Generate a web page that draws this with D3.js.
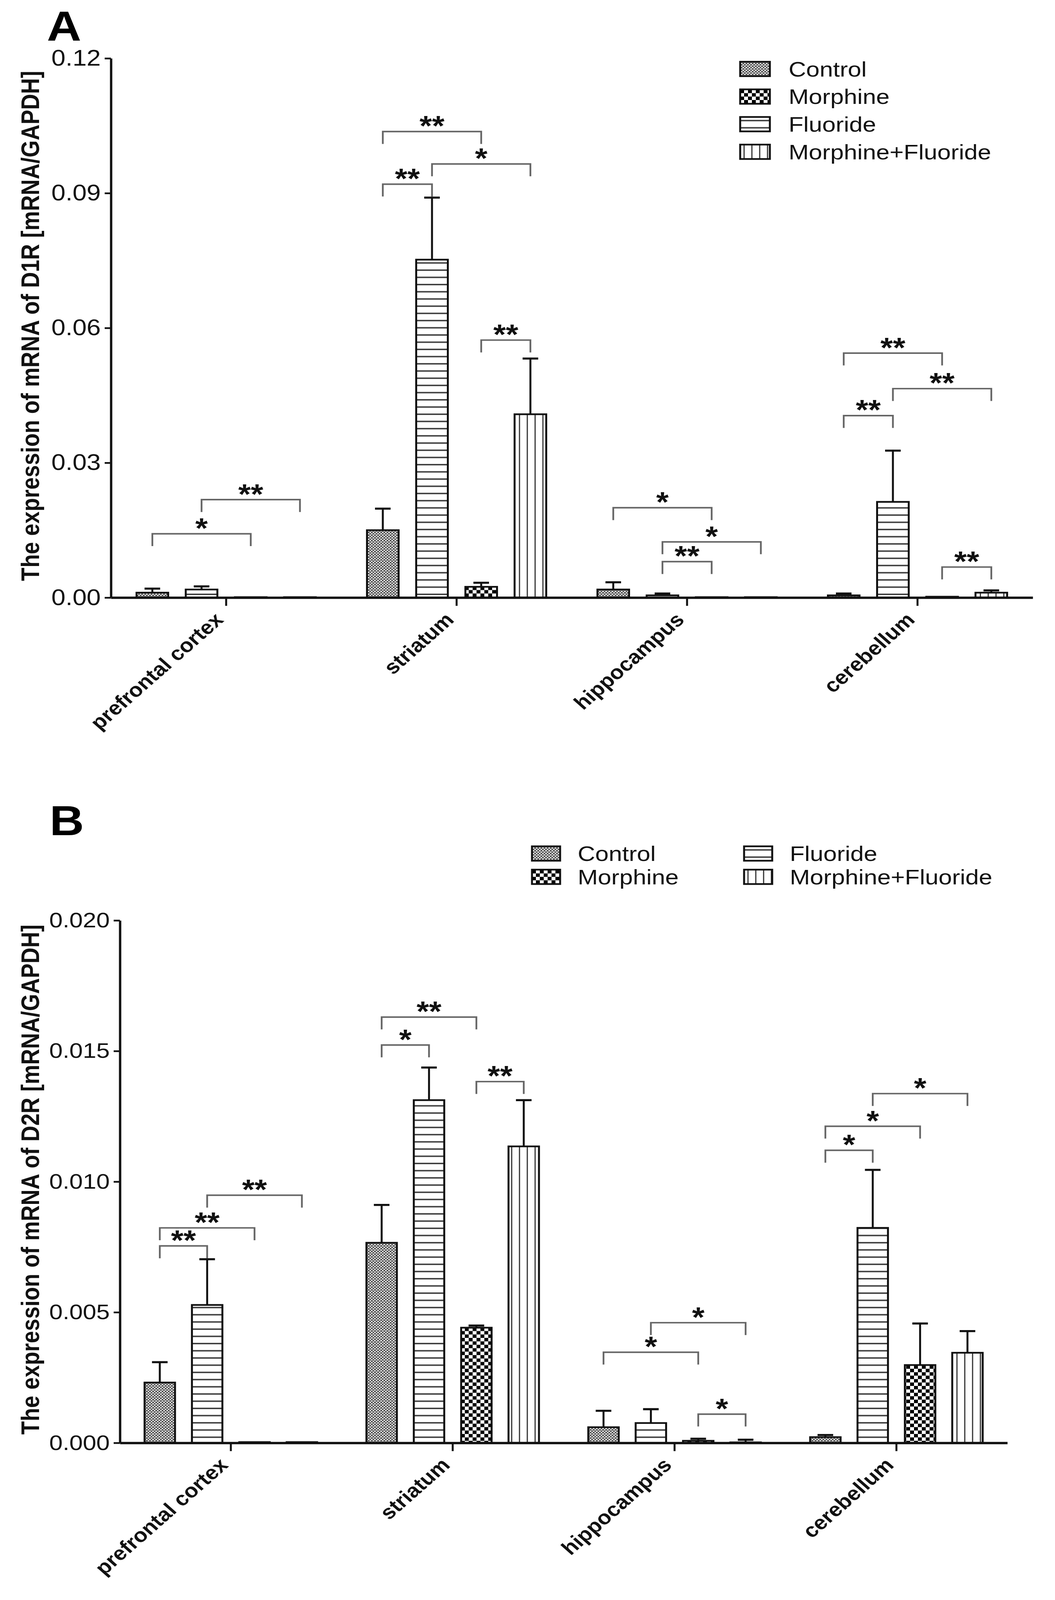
<!DOCTYPE html>
<html>
<head>
<meta charset="utf-8">
<script src="https://cdn.jsdelivr.net/npm/d3@7"></script>
<style>
  html, body { margin: 0; padding: 0; background: #fff; overflow: hidden; }
  svg { display: block; }
  text { font-family: "Liberation Sans", Arial, sans-serif; }
</style>
</head>
<body>
<script>
// regions on the x axis and the treatment groups, in the order the bars are drawn
const regions = ["prefrontal cortex", "striatum", "hippocampus", "cerebellum"];
const groups = ["Control", "Fluoride", "Morphine", "Morphine+Fluoride"];
const legendOrder = ["Control", "Morphine", "Fluoride", "Morphine+Fluoride"];

// D1R (panel A) means and SEM, one value per region
const d1rControl = [0.0011, 0.0150, 0.0018, 0.0005];
const d1rControlErr = [0.0009, 0.0048, 0.0016, 0.0004];
const d1rFluoride = [0.0018, 0.0752, 0.0005, 0.0213];
const d1rFluorideErr = [0.0007, 0.0138, 0.0004, 0.0114];
const d1rMorphine = [0.0001, 0.0024, 0.0001, 0.0002];
const d1rMorphineErr = [0, 0.0009, 0, 0];
const d1rMorphFluor = [0.0001, 0.0408, 0.0001, 0.0011];
const d1rMorphFluorErr = [0, 0.0124, 0, 0.0005];
const d1rTicks = [0, 0.03, 0.06, 0.09, 0.12];

// D2R (panel B)
const d2rControl = [0.00231, 0.00766, 0.00060, 0.00022];
const d2rControlErr = [0.00078, 0.00145, 0.00063, 0.00008];
const d2rFluoride = [0.00528, 0.01312, 0.00076, 0.00823];
const d2rFluorideErr = [0.00175, 0.00125, 0.00053, 0.00222];
const d2rMorphine = [0.00003, 0.00441, 0.00008, 0.00298];
const d2rMorphineErr = [0, 0.00008, 0.00008, 0.00159];
const d2rMorphFluor = [0.00003, 0.01135, 0.00002, 0.00345];
const d2rMorphFluorErr = [0, 0.00177, 0.00010, 0.00083];
const d2rTicks = [0, 0.005, 0.010, 0.015, 0.020];

// significance brackets: region, first bar, second bar (group index), height in data units, label
const d1rSig = [
  {region: 0, a: 0, b: 2, at: 0.0142, label: "*"},
  {region: 0, a: 1, b: 3, at: 0.0218, label: "**"},
  {region: 1, a: 0, b: 1, at: 0.0920, label: "**"},
  {region: 1, a: 0, b: 2, at: 0.1037, label: "**"},
  {region: 1, a: 1, b: 3, at: 0.0965, label: "*"},
  {region: 1, a: 2, b: 3, at: 0.0573, label: "**"},
  {region: 2, a: 0, b: 2, at: 0.0200, label: "*"},
  {region: 2, a: 1, b: 3, at: 0.0124, label: "*"},
  {region: 2, a: 1, b: 2, at: 0.0080, label: "**"},
  {region: 3, a: 0, b: 2, at: 0.0544, label: "**"},
  {region: 3, a: 1, b: 3, at: 0.0465, label: "**"},
  {region: 3, a: 0, b: 1, at: 0.0405, label: "**"},
  {region: 3, a: 2, b: 3, at: 0.0068, label: "**"}
];
const d2rSig = [
  {region: 0, a: 0, b: 1, at: 0.00754, label: "**"},
  {region: 0, a: 0, b: 2, at: 0.00823, label: "**"},
  {region: 0, a: 1, b: 3, at: 0.00948, label: "**"},
  {region: 1, a: 0, b: 2, at: 0.01630, label: "**"},
  {region: 1, a: 0, b: 1, at: 0.01523, label: "*"},
  {region: 1, a: 2, b: 3, at: 0.01383, label: "**"},
  {region: 2, a: 0, b: 2, at: 0.00347, label: "*"},
  {region: 2, a: 1, b: 3, at: 0.00460, label: "*"},
  {region: 2, a: 2, b: 3, at: 0.00110, label: "*"},
  {region: 3, a: 0, b: 1, at: 0.01120, label: "*"},
  {region: 3, a: 0, b: 2, at: 0.01212, label: "*"},
  {region: 3, a: 1, b: 3, at: 0.01337, label: "*"}
];

// the drawing is laid out on a 2701x4664 canvas and stretched to whatever the window shows
const W = 2701, H = 4664;
const svg = d3.select("body").append("svg")
  .attr("viewBox", "0 0 " + W + " " + H)
  .attr("preserveAspectRatio", "none")
  .attr("width", window.innerWidth || W)
  .attr("height", window.innerHeight || H);
svg.append("rect").attr("width", W).attr("height", H).attr("fill", "#fff");

// fill patterns, one per group
const defs = svg.append("defs");
const patId = {"Control": "pat-ctl", "Morphine": "pat-mor", "Fluoride": "pat-flu", "Morphine+Fluoride": "pat-mf"};

var p = defs.append("pattern").attr("id", "pat-ctl").attr("patternUnits", "userSpaceOnUse")
  .attr("width", 8).attr("height", 8);
p.append("rect").attr("width", 8).attr("height", 8).attr("fill", "#fff");
p.append("path").attr("d", "M0,0L8,8M8,0L0,8M-2,6L2,10M6,-2L10,2M-2,2L2,-2M6,10L10,6")
  .attr("stroke", "#333").attr("stroke-width", 1.8);

p = defs.append("pattern").attr("id", "pat-mor").attr("patternUnits", "userSpaceOnUse")
  .attr("width", 20).attr("height", 20);
p.append("rect").attr("width", 20).attr("height", 20).attr("fill", "#fff");
p.append("rect").attr("width", 10).attr("height", 10).attr("fill", "#000");
p.append("rect").attr("x", 10).attr("y", 10).attr("width", 10).attr("height", 10).attr("fill", "#000");

p = defs.append("pattern").attr("id", "pat-flu").attr("patternUnits", "userSpaceOnUse")
  .attr("width", 10).attr("height", 21);
p.append("rect").attr("width", 10).attr("height", 21).attr("fill", "#fff");
p.append("line").attr("x1", 0).attr("x2", 10).attr("y1", 10.5).attr("y2", 10.5)
  .attr("stroke", "#333").attr("stroke-width", 4);

p = defs.append("pattern").attr("id", "pat-mf").attr("patternUnits", "userSpaceOnUse")
  .attr("width", 20).attr("height", 10);
p.append("rect").attr("width", 20).attr("height", 10).attr("fill", "#fff");
p.append("line").attr("y1", 0).attr("y2", 10).attr("x1", 10).attr("x2", 10)
  .attr("stroke", "#333").attr("stroke-width", 3);

function drawPanel(cfg) {
  var g = svg.append("g");
  var x0 = d3.scaleBand().domain(regions).range([cfg.left, cfg.right]);
  var half = x0.bandwidth() * 0.854 / 2;
  var x1 = d3.scaleBand().domain(groups).range([-half, half])
    .paddingInner(0.357).paddingOuter(0.1786);
  var y = d3.scaleLinear().domain([0, cfg.ticks[cfg.ticks.length - 1]]).range([cfg.zero, cfg.top]);
  var center = function(r) { return x0(r) + x0.bandwidth() / 2; };
  var barMid = function(ri, gi) { return center(regions[ri]) + x1(groups[gi]) + x1.bandwidth() / 2; };

  // panel letter
  g.append("text").attr("x", cfg.letterX).attr("y", cfg.letterY)
    .attr("font-size", 122).attr("font-weight", "bold").text(cfg.letter);

  // bars
  var rows = [];
  groups.forEach(function(name, gi) {
    cfg.means[gi].forEach(function(v, ri) {
      rows.push({gi: gi, ri: ri, name: name, v: v, err: cfg.errs[gi][ri]});
    });
  });
  g.selectAll(".bar").data(rows).enter().append("rect")
    .attr("class", "bar")
    .attr("x", function(d) { return center(regions[d.ri]) + x1(d.name); })
    .attr("width", x1.bandwidth())
    .attr("y", function(d) { return y(d.v); })
    .attr("height", function(d) { return cfg.zero - y(d.v); })
    .attr("fill", function(d) { return "url(#" + patId[d.name] + ")"; })
    .attr("stroke", "#111").attr("stroke-width", 5);

  // upper error bars only
  var withErr = rows.filter(function(d) { return d.err > 0; });
  g.selectAll(".err").data(withErr).enter().append("line")
    .attr("x1", function(d) { return barMid(d.ri, d.gi); })
    .attr("x2", function(d) { return barMid(d.ri, d.gi); })
    .attr("y1", function(d) { return y(d.v); })
    .attr("y2", function(d) { return y(d.v + d.err); })
    .attr("stroke", "#111").attr("stroke-width", 5);
  g.selectAll(".cap").data(withErr).enter().append("line")
    .attr("x1", function(d) { return barMid(d.ri, d.gi) - 20; })
    .attr("x2", function(d) { return barMid(d.ri, d.gi) + 20; })
    .attr("y1", function(d) { return y(d.v + d.err); })
    .attr("y2", function(d) { return y(d.v + d.err); })
    .attr("stroke", "#111").attr("stroke-width", 6);

  // y axis
  var yAxis = g.append("g").attr("transform", "translate(" + cfg.left + ",0)")
    .call(d3.axisLeft(y).tickValues(cfg.ticks).tickFormat(d3.format(cfg.fmt))
      .tickSize(16).tickSizeOuter(0).tickPadding(10));
  yAxis.select(".domain").attr("stroke", "#111").attr("stroke-width", 6);
  yAxis.selectAll(".tick line").attr("stroke", "#111").attr("stroke-width", 5);
  yAxis.selectAll(".tick text").attr("font-size", cfg.tickFont).attr("fill", "#111")
    .style("font-family", "'Liberation Sans', Arial, sans-serif");

  // x axis
  var xAxis = g.append("g").attr("transform", "translate(0," + cfg.zero + ")")
    .call(d3.axisBottom(x0).tickSize(24).tickSizeOuter(0).tickFormat(""));
  xAxis.select(".domain").attr("stroke", "#111").attr("stroke-width", 7);
  xAxis.selectAll(".tick line").attr("stroke", "#111").attr("stroke-width", 5);

  g.selectAll(".xlab").data(regions).enter().append("text")
    .attr("transform", function(r) {
      return "translate(" + (center(r) - 4) + "," + (cfg.zero + 68) + ") rotate(-45)";
    })
    .attr("text-anchor", "end").attr("font-size", 57).attr("font-weight", "bold")
    .attr("fill", "#111").text(function(r) { return r; });

  // y title
  g.append("text")
    .attr("transform", "translate(" + cfg.titleX + "," + ((cfg.top + cfg.zero) / 2 - 6) + ") rotate(-90)")
    .attr("text-anchor", "middle").attr("dominant-baseline", "central")
    .attr("font-size", 64).attr("font-weight", "bold").attr("fill", "#111")
    .text(cfg.title);

  // significance brackets
  var sig = g.selectAll(".sig").data(cfg.sig).enter().append("g");
  sig.append("path")
    .attr("d", function(s) {
      var xa = barMid(s.region, s.a), xb = barMid(s.region, s.b), yy = y(s.at);
      return "M" + xa + "," + (yy + 36) + "V" + yy + "H" + xb + "V" + (yy + 36);
    })
    .attr("fill", "none").attr("stroke", "#666").attr("stroke-width", 4.5);
  sig.append("text")
    .attr("x", function(s) { return (barMid(s.region, s.a) + barMid(s.region, s.b)) / 2; })
    .attr("y", function(s) { return y(s.at) + 12; })
    .attr("text-anchor", "middle").attr("font-size", 82).attr("font-weight", "bold")
    .attr("fill", "#111").text(function(s) { return s.label; });

  // legend
  var leg = g.selectAll(".leg").data(legendOrder).enter().append("g")
    .attr("transform", function(name, i) { return "translate(" + cfg.legX(i) + "," + cfg.legY(i) + ")"; });
  leg.append("rect").attr("x", 0).attr("y", -21).attr("width", cfg.swW).attr("height", 42)
    .attr("fill", function(name) { return "url(#" + patId[name] + ")"; })
    .attr("stroke", "#111").attr("stroke-width", 5);
  leg.append("text").attr("x", cfg.legText).attr("y", 0).attr("dominant-baseline", "central")
    .attr("font-size", 62).attr("fill", "#111").text(function(name) { return name; });
}

drawPanel({
  letter: "A", letterX: 120, letterY: 118,
  left: 284, right: 2644, top: 170, zero: 1742,
  ticks: d1rTicks, fmt: ".2f", tickFont: 65, titleX: 78,
  title: "The expression of mRNA of D1R [mRNA/GAPDH]",
  means: [d1rControl, d1rFluoride, d1rMorphine, d1rMorphFluor],
  errs: [d1rControlErr, d1rFluorideErr, d1rMorphineErr, d1rMorphFluorErr],
  sig: d1rSig,
  legX: function(i) { return 1895; },
  legY: function(i) { return 201 + i * 80.5; },
  swW: 76, legText: 124
});

drawPanel({
  letter: "B", letterX: 127, letterY: 2434,
  left: 307, right: 2579, top: 2683, zero: 4206,
  ticks: d2rTicks, fmt: ".3f", tickFont: 62, titleX: 78,
  title: "The expression of mRNA of D2R [mRNA/GAPDH]",
  means: [d2rControl, d2rFluoride, d2rMorphine, d2rMorphFluor],
  errs: [d2rControlErr, d2rFluorideErr, d2rMorphineErr, d2rMorphFluorErr],
  sig: d2rSig,
  legX: function(i) { return i < 2 ? 1362 : 1905; },
  legY: function(i) { return 2488 + (i % 2) * 68; },
  swW: 72, legText: 117
});
</script>
</body>
</html>
